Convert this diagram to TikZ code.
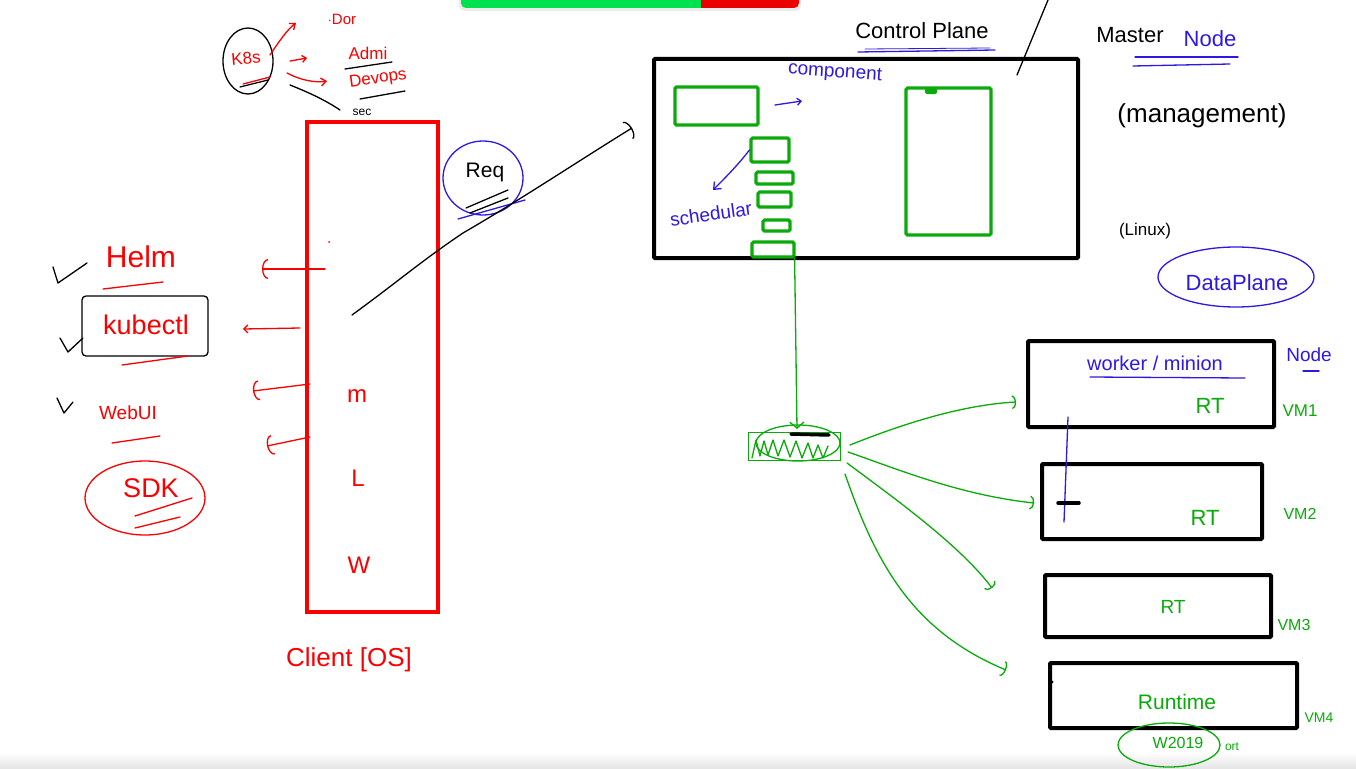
\documentclass[tikz,border=0pt]{standalone}
\usepackage{fontspec}
\setmainfont{Liberation Sans}
\usetikzlibrary{arrows.meta,shapes.geometric}
\definecolor{pred}{RGB}{250,0,0}
\definecolor{pgreen}{RGB}{10,170,10}
\definecolor{pblue}{RGB}{45,25,225}
\definecolor{barG}{RGB}{0,225,80}
\definecolor{barR}{RGB}{235,0,0}
\newcommand\fsz[1]{\fontsize{#1}{#1}\selectfont}
\tikzset{
  pen/.style={line width=1.3pt, line cap=round, line join=round},
  rpen/.style={pen, draw=pred},
  gpen/.style={pen, draw=pgreen},
  bpen/.style={pen, draw=pblue},
  kpen/.style={pen, draw=black},
  hook/.style={-{Arc Barb[length=6pt,width=20pt,line width=1.3pt]}},
  rt/.style={text=pred, inner sep=0pt},
  gt/.style={text=pgreen, inner sep=0pt},
  bt/.style={text=pblue, inner sep=0pt},
  kt/.style={text=black, inner sep=0pt},
  blkbox/.style={draw=black, line width=4pt, minimum width=#1, rounded corners=1pt, inner sep=0pt},
  grnbox/.style={draw=pgreen, line width=3.2pt, rounded corners=1.5pt, inner sep=0pt},
}
\begin{document}
\begin{tikzpicture}[x=1pt,y=-1pt]
\useasboundingbox (0,0) rectangle (1356,768);
\fill[white] (0,0) rectangle (1356,768);
\shade[top color=white,bottom color=black!10] (0,752) rectangle (1356,768);

% toolbar at top
\begin{scope}
\clip (450,0) rectangle (820,20);
\fill[black!8, rounded corners=6pt] (459,-14) rectangle (801,11);
\fill[barG, rounded corners=5pt] (461,-14) rectangle (720,8);
\fill[barR, rounded corners=5pt] (701,-14) rectangle (799,8);
\fill[barR] (701,-14) rectangle (712,8);
\end{scope}

% ---------- K8s cluster of notes ----------
\node[draw=black, pen, ellipse, minimum width=50pt, minimum height=66pt, inner sep=0pt] (k8s) at (248,61) {};
\node[rt, font=\fsz{17}, rotate=5] (k8stext) at (246,58) {K8s};
\draw[rpen] (243,84) -- (270,77);
\draw[kpen] (240,87) -- (268,80);
\node[rt, font=\fsz{15}] (dor) at (342,19) {$\cdot$Dor};
\node[rt, font=\fsz{17}] (admi) at (368,53) {Admi};
\node[rt, font=\fsz{17}, rotate=8] (devops) at (378,79) {Devops};
\draw[rpen, -{Straight Barb[length=5pt,width=8pt]}] (270,55) .. controls (280,40) and (287,30) .. (296,23);
\draw[rpen, -{Straight Barb[length=4pt,width=7pt]}] (290,61) -- (307,58);
\draw[rpen, -{Straight Barb[length=5pt,width=8pt]}] (287,73) .. controls (300,80) and (315,83) .. (327,81);
\draw[kpen] (345,69) -- (392,62);
\draw[kpen] (360,99) -- (405,91);
\draw[kpen] (290,85) .. controls (310,93) and (325,100) .. (340,110);
\node[kt, font=\fsz{12}] (sec) at (362,112) {sec};

% ---------- Client box ----------
\node[draw=pred, line width=4.5pt, minimum width=131pt, minimum height=490pt, inner sep=0pt] (client) at (372.5,367) {};
\fill[pred] (329,242) circle (1pt);
\node[rt, font=\fsz{24}] (m) at (357,396) {m};
\node[rt, font=\fsz{24}] (L) at (358,478) {L};
\node[rt, font=\fsz{24}] (W) at (359,565) {W};
\node[rt, font=\fsz{26}] (clientlbl) at (349,660) {Client [OS]};

\coordinate (a1s) at (325,269); \coordinate (a1e) at (262,269);
\coordinate (a2s) at (300,328); \coordinate (a2e) at (243,329);
\coordinate (a3s) at (310,384); \coordinate (a3e) at (253,391);
\coordinate (a4s) at (310,437); \coordinate (a4e) at (267,446);
\draw[rpen, hook] (a1s) -- (a1e);
\draw[rpen, -{Straight Barb[length=4pt,width=8pt]}] (a2s) -- (a2e);
\draw[rpen, hook] (a3s) -- (a3e);
\draw[rpen, hook] (a4s) -- (a4e);

% ---------- Left tools ----------
\draw[kpen] (53,267) -- (58,283) -- (87,263);
\draw[kpen] (60,338) -- (68,352) -- (83,338);
\draw[kpen] (57,398) -- (64,413) -- (73,402);
\node[rt, font=\fsz{30}] (helm) at (141,257) {Helm};
\draw[rpen] (103,289) -- (163,282);
\node[draw=black, pen, minimum width=126pt, minimum height=60pt, rounded corners=4pt, inner sep=0pt] (kbox) at (145,326) {};
\node[rt, font=\fsz{27}] (kubectl) at (146,325) {kubectl};
\draw[rpen] (122,365) -- (188,356);
\node[rt, font=\fsz{19}] (webui) at (128,413) {WebUI};
\draw[rpen] (112,443) -- (160,436);
\node[draw=pred, pen, ellipse, minimum width=120pt, minimum height=74pt, inner sep=0pt] (sdkc) at (145,498) {};
\node[rt, font=\fsz{27}] (sdk) at (151,488) {SDK};
\draw[rpen] (135,516) -- (192,498);
\draw[rpen] (135,528) -- (180,517);

% ---------- Req ----------
\node[draw=pblue, pen, ellipse, minimum width=80pt, minimum height=74pt, inner sep=0pt] (reqc) at (483,178) {};
\node[kt, font=\fsz{21}] (req) at (485,172) {Req};
\draw[kpen] (466,208) -- (508,190);
\draw[kpen] (470,213) -- (508,198);
\draw[bpen] (458,219) -- (525,200);
\coordinate (rqs) at (352,315);
\coordinate (rqe) at (632,128);
\draw[kpen, -{Arc Barb[length=5pt,width=20pt,line width=1.3pt]}] (rqs) .. controls (400,280) and (420,262) .. (463,233)
  .. controls (520,200) and (580,160) .. (rqe);

% ---------- Control plane ----------
\node[blkbox=424pt, minimum height=199pt] (cp) at (866,158.5) {};
\node[kt, font=\fsz{22}] (cptitle) at (922,31) {Control Plane};
\draw[bpen] (858,52) -- (995,50);
\draw[bpen, line width=0.8pt] (865,49) -- (990,48);
\coordinate (sl1) at (1048,0); \coordinate (sl2) at (1017,75);
\draw[kpen] (sl1) -- (sl2);
\node[kt, font=\fsz{22}] (master) at (1130,35) {Master};
\node[bt, font=\fsz{22}] (mnode) at (1210,39) {Node};
\draw[bpen] (1135,57) -- (1238,57);
\draw[bpen] (1133,66) -- (1230,64);
\node[kt, font=\fsz{26}] (mgmt) at (1202,116) {(management)};
\node[kt, font=\fsz{17}] (linux) at (1145,231) {(Linux)};
\node[draw=pblue, pen, ellipse, minimum width=156pt, minimum height=60pt, inner sep=0pt] (dpc) at (1236,277) {};
\node[bt, font=\fsz{22}] (dp) at (1237,283) {DataPlane};

\node[grnbox, minimum width=83pt, minimum height=38pt] (comp1) at (716.5,106) {};
\node[grnbox, minimum width=85pt, minimum height=147pt] (etcd) at (948.5,161.5) {};
\fill[pgreen, rounded corners=2pt] (925,88) rectangle (937,94);
\node[grnbox, minimum width=38pt, minimum height=24pt] (s1) at (770,150) {};
\node[grnbox, minimum width=37pt, minimum height=12pt] (s2) at (774.5,178) {};
\node[grnbox, minimum width=33pt, minimum height=15pt] (s3) at (774.5,199.5) {};
\node[grnbox, minimum width=27pt, minimum height=11pt] (s4) at (776.5,225.5) {};
\node[grnbox, minimum width=42pt, minimum height=15pt] (s5) at (773,249.5) {};
\node[bt, font=\fsz{19}, rotate=-4] (component) at (835,73) {component};
\draw[bpen, -{Straight Barb[length=4pt,width=7pt]}] (775,105) -- (802,101);
\node[bt, font=\fsz{19}, rotate=8] (sched) at (711,214) {schedular};
\draw[bpen, -{Straight Barb[length=6pt,width=10pt]}] (s1.west) .. controls (738,165) and (725,178) .. (713,190);

% ---------- device ----------
\node[draw=pgreen, line width=1pt, minimum width=92pt, minimum height=28pt, inner sep=0pt] (dev) at (794,446) {};
\node[draw=pgreen, pen, ellipse, minimum width=84pt, minimum height=36pt, inner sep=0pt] (devc) at (798,443) {};
\draw[gpen] (752,458) -- (756,440) -- (760,456) -- (764,441) -- (768,455) -- (773,440) -- (778,456) -- (784,440) -- (790,457) -- (796,441) -- (802,458) -- (808,443) -- (813,458) -- (818,445) -- (823,458) -- (828,446);
\draw[black, line width=3.5pt, line cap=round] (791,434) -- (829,435);
\draw[gpen, -{Straight Barb[length=6pt,width=14pt]}] ([xshift=-1pt]s5.south east) -- (797,429);

% ---------- workers ----------
\node[blkbox=246pt, minimum height=86pt] (w1) at (1151,384) {};
\node[blkbox=220pt, minimum height=75pt] (w2) at (1152,501.5) {};
\node[blkbox=226pt, minimum height=62pt] (w3) at (1158,606) {};
\node[blkbox=247pt, minimum height=65pt] (w4) at (1173.5,695.5) {};

\coordinate (e1) at (1016,402);
\coordinate (e2) at (1034,503);
\coordinate (e3) at (992,588);
\coordinate (e4) at (1006,670);
\draw[gpen, -{Arc Barb[length=4pt,width=14pt,line width=1.3pt]}] (850,445) .. controls (900,425) and (960,405) .. (e1);
\draw[gpen, -{Arc Barb[length=4pt,width=14pt,line width=1.3pt]}] (848,452) .. controls (900,470) and (960,495) .. (e2);
\draw[gpen, -{Arc Barb[length=4pt,width=14pt,line width=1.3pt]}] (847,463) .. controls (890,495) and (960,545) .. (e3);
\draw[gpen, -{Arc Barb[length=4pt,width=16pt,line width=1.3pt]}] (845,474) .. controls (875,560) and (910,630) .. (e4);

\node[bt, font=\fsz{20}] (wm) at (1155,363) {worker / minion};
\draw[bpen] (1090,377) -- (1245,378);
\node[gt, font=\fsz{22}] (rt1) at (1210,406) {RT};
\node[gt, font=\fsz{22}] (rt2) at (1205,518) {RT};
\node[gt, font=\fsz{19}] (rt3) at (1173,607) {RT};
\node[gt, font=\fsz{21}] (runtime) at (1177,702) {Runtime};
\node[bt, font=\fsz{19}] (wnode) at (1309,355) {Node};
\draw[bpen] (1303,371) -- (1319,371);
\node[gt, font=\fsz{17}] (vm1) at (1300,411) {VM1};
\node[gt, font=\fsz{16}] (vm2) at (1300,514) {VM2};
\node[gt, font=\fsz{16}] (vm3) at (1294,625) {VM3};
\node[gt, font=\fsz{14}] (vm4) at (1319,718) {VM4};
\coordinate (bl1) at (1068,417); \coordinate (bl2) at (1064,522);
\draw[bpen] (bl1) -- (bl2);
\draw[black, line width=3.5pt, line cap=round] (1058,503) -- (1079,503);
\fill[black] (1052,682) circle (1.5pt);
\node[draw=pgreen, pen, ellipse, minimum width=102pt, minimum height=44pt, inner sep=0pt] (w19c) at (1169,745) {};
\node[gt, font=\fsz{16}] (w19) at (1178,743) {W2019};
\node[gt, font=\fsz{12}] (ort) at (1232,747) {ort};
\end{tikzpicture}
\end{document}
